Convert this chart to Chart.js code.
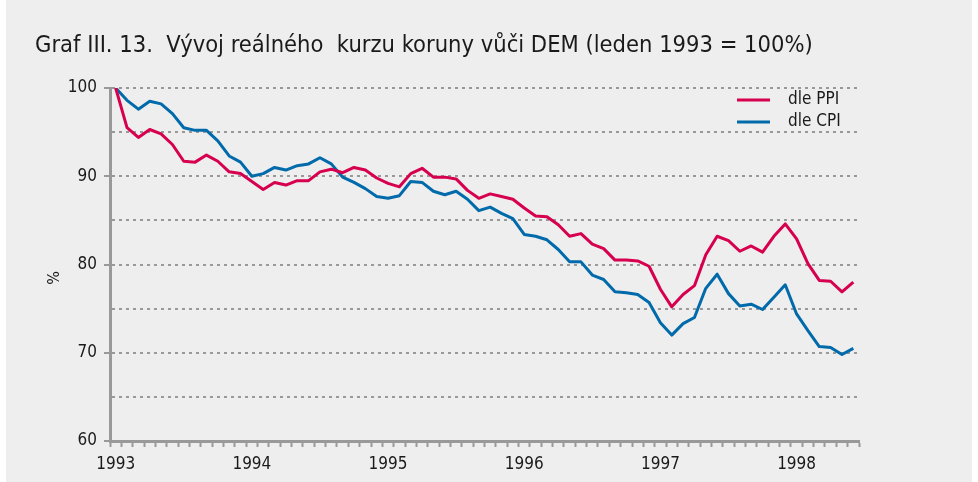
<!DOCTYPE html>
<html>
<head>
<meta charset="utf-8">
<script src="https://cdn.jsdelivr.net/npm/chart.js@4.4.1/dist/chart.umd.min.js"></script>
<style>
  html, body { margin: 0; padding: 0; background: #ffffff; }
  #panel { position: absolute; left: 6px; top: 0; width: 966px; height: 482px; background: #eeeeee; }
  #wrap { position: absolute; left: 0; top: 0; width: 978px; height: 482px; }
</style>
</head>
<body>
<div id="panel"></div>
<div id="wrap"><canvas id="c" width="978" height="482"></canvas></div>
<script>
const months = [
  '1993-01','1993-02','1993-03','1993-04','1993-05','1993-06','1993-07','1993-08','1993-09','1993-10','1993-11','1993-12',
  '1994-01','1994-02','1994-03','1994-04','1994-05','1994-06','1994-07','1994-08','1994-09','1994-10','1994-11','1994-12',
  '1995-01','1995-02','1995-03','1995-04','1995-05','1995-06','1995-07','1995-08','1995-09','1995-10','1995-11','1995-12',
  '1996-01','1996-02','1996-03','1996-04','1996-05','1996-06','1996-07','1996-08','1996-09','1996-10','1996-11','1996-12',
  '1997-01','1997-02','1997-03','1997-04','1997-05','1997-06','1997-07','1997-08','1997-09','1997-10','1997-11','1997-12',
  '1998-01','1998-02','1998-03','1998-04','1998-05','1998-06'
];
const ppi = [
  100, 95.5, 94.4, 95.3, 94.8, 93.6, 91.7, 91.6, 92.4, 91.7, 90.5, 90.3,
  89.4, 88.5, 89.3, 89.0, 89.5, 89.5, 90.5, 90.8, 90.4, 91.0, 90.7, 89.8,
  89.2, 88.8, 90.3, 90.9, 89.9, 89.9, 89.7, 88.4, 87.5, 88.0, 87.7, 87.4,
  86.4, 85.5, 85.4, 84.5, 83.2, 83.5, 82.3, 81.8, 80.5, 80.5, 80.4, 79.8,
  77.2, 75.2, 76.6, 77.6, 81.1, 83.2, 82.7, 81.5, 82.1, 81.4, 83.2, 84.6,
  82.9, 80.1, 78.2, 78.1, 76.9, 78.0
];
const cpi = [
  100, 98.6, 97.6, 98.5, 98.2, 97.1, 95.5, 95.2, 95.2, 94.0, 92.3, 91.6,
  90.0, 90.3, 91.0, 90.7, 91.2, 91.4, 92.1, 91.4, 89.9, 89.3, 88.6, 87.7,
  87.5, 87.8, 89.4, 89.3, 88.3, 87.9, 88.3, 87.4, 86.1, 86.5, 85.8, 85.2,
  83.4, 83.2, 82.8, 81.7, 80.3, 80.3, 78.8, 78.3, 76.9, 76.8, 76.6, 75.7,
  73.4, 72.0, 73.3, 74.0, 77.3, 78.9, 76.7, 75.3, 75.5, 74.9, 76.3, 77.7,
  74.4, 72.5, 70.7, 70.6, 69.8, 70.5
];
const seriesNames = ['dle PPI', 'dle CPI'];
const seriesColors = ['#d6004e', '#006aaa'];
const titleText = 'Graf III. 13.  Vývoj reálného  kurzu koruny vůči DEM (leden 1993 = 100%)';
const yAxisTitle = '%';

const FONT = "'Liberation Sans Narrow', 'DejaVu Sans Condensed', 'Open Sans', sans-serif";

const legendPlugin = {
  id: 'customLegend',
  afterDraw(chart) {
    const ctx = chart.ctx;
    const a = chart.chartArea;
    const x0 = a.right - 122;
    let y = a.top + 12;
    ctx.save();
    ctx.font = "17px " + FONT;
    ctx.textBaseline = 'middle';
    ctx.textAlign = 'left';
    chart.data.datasets.forEach(ds => {
      ctx.strokeStyle = ds.borderColor;
      ctx.lineWidth = 3;
      ctx.beginPath();
      ctx.moveTo(x0, y);
      ctx.lineTo(x0 + 33, y);
      ctx.stroke();
      ctx.fillStyle = '#1a1a1a';
      ctx.fillText(ds.label, x0 + 51, y);
      y += 22;
    });
    // y-axis unit label
    ctx.translate(a.left - 55, a.top + 190);
    ctx.rotate(-Math.PI / 2);
    ctx.font = "16px " + FONT;
    ctx.textAlign = 'center';
    ctx.fillText(yAxisTitle, 0, 0);
    ctx.restore();
  }
};

new Chart(document.getElementById('c'), {
  type: 'line',
  data: {
    labels: months,
    datasets: [
      { label: seriesNames[0], data: ppi, borderColor: seriesColors[0], backgroundColor: seriesColors[0] },
      { label: seriesNames[1], data: cpi, borderColor: seriesColors[1], backgroundColor: seriesColors[1] }
    ]
  },
  options: {
    responsive: false,
    animation: false,
    layout: { padding: { left: 35, right: 119, top: 0, bottom: 0 } },
    elements: {
      line: { borderWidth: 3, tension: 0, borderJoinStyle: 'round' },
      point: { radius: 0, hoverRadius: 0 }
    },
    plugins: {
      legend: { display: false },
      tooltip: { enabled: false },
      title: {
        display: true,
        text: titleText,
        align: 'start',
        color: '#1a1a1a',
        font: { family: FONT, size: 23.5, weight: 'normal', lineHeight: 1.2 },
        padding: { top: 32, bottom: 27.8 }
      }
    },
    scales: {
      x: {
        type: 'category',
        offset: true,
        afterFit(s) { s.height = 41; },
        grid: { display: true, drawOnChartArea: false, drawTicks: true, tickLength: 6, tickColor: '#999999', tickWidth: 2, offset: true },
        border: { display: true, color: '#999999', width: 3 },
        ticks: {
          autoSkip: false, maxRotation: 0, minRotation: 0, padding: 7,
          color: '#1a1a1a',
          font: { family: FONT, size: 17 },
          callback(v, i) { const m = months[i]; return m.endsWith('-01') ? m.slice(0, 4) : ''; }
        }
      },
      y: {
        min: 60, max: 100,
        afterFit(s) { s.width = 75; },
        grid: {
          drawTicks: true, tickLength: 6, tickWidth: 2,
          color: ctx => (ctx.tick && ctx.tick.value === 60) ? 'rgba(0,0,0,0)' : '#999999',
          lineWidth: 2,
          tickColor: ctx => (ctx.tick && ctx.tick.value % 10 === 0) ? '#999999' : 'rgba(0,0,0,0)'
        },
        border: { display: true, color: '#999999', width: 3, dash: [3, 4] },
        ticks: {
          stepSize: 5, padding: 7, color: '#1a1a1a',
          font: { family: FONT, size: 17 },
          callback(v) { return v % 10 === 0 ? String(v) : ''; }
        },
        title: { display: false }
      }
    }
  },
  plugins: [legendPlugin]
});
</script>
</body>
</html>
